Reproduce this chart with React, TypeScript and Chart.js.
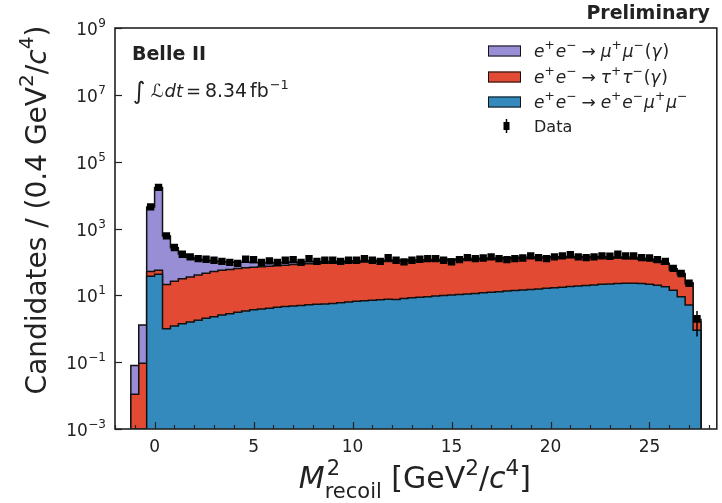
import React, { useEffect, useRef } from "react";
import { Chart, registerables } from "chart.js";

Chart.register(...registerables);

const FONT = "'DejaVu Sans', sans-serif";
const TEXT = "#222222";

// Histogram binning: 0.4 GeV^2/c^4 bins starting at -1.2
const BIN_START = -1.2;
const BIN_WIDTH = 0.4;

const X_MIN = -2;
const X_MAX = 28.4;
const Y_MIN = 1e-3;
const Y_MAX = 1e9;
const X_TICKS = [0, 5, 10, 15, 20, 25];
const Y_TICK_EXPONENTS = [-3, -1, 1, 3, 5, 7, 9];

// e+e- -> e+e-mu+mu- (blue)
const eemumu = [
  0, 0, 37, 43, 1.0, 1.2, 1.4, 1.6, 1.8, 2.05,
  2.3, 2.6, 2.8, 3.1, 3.4, 3.7, 3.9, 4.1, 4.4, 4.6,
  4.8, 5.0, 5.2, 5.4, 5.5, 5.7, 6.0, 6.3, 6.6, 6.9,
  7.1, 7.4, 7.6, 7.5, 8.1, 8.4, 8.8, 9.1, 9.5, 9.9,
  10.3, 10.6, 11.0, 11.4, 11.9, 12.4, 12.9, 13.4, 13.9, 14.5,
  15.0, 15.6, 16.2, 16.9, 17.6, 18.3, 19.0, 19.8, 20.5, 21.3,
  21.9, 22.5, 23.0, 23.0, 22.6, 21.3, 20.0, 18.0, 14.3, 9.0,
  5.1, 0.9,
];

// e+e- -> tau+tau-(gamma) (red)
const tautau = [
  0.011, 0.093, 15, 13, 20, 25, 30, 34, 39, 44,
  49, 54, 57, 60, 63, 65, 68, 70, 73, 75,
  79, 81, 83, 85, 87, 87, 89, 90, 91, 93,
  94, 95, 95, 97, 96, 97, 97, 97, 98, 99,
  101, 102, 104, 106, 107, 109, 109, 111, 112, 114,
  114, 114, 115, 115, 115, 116, 116, 115, 114, 112,
  109, 107, 104, 102, 97, 91, 80, 67, 43, 33,
  17, 0.7,
];

// e+e- -> mu+mu-(gamma) (purple)
const mumu = [
  0.069, 1.2, 4350, 16900, 579, 240, 140, 100, 80, 66,
  55, 46, 40, 35, 31, 27, 24, 21, 19, 17,
  15, 14, 13, 12, 11, 11, 10, 10, 10, 10,
  10, 10, 10, 10, 10, 10, 10, 10, 10, 10,
  10, 10, 10, 10, 10, 10, 10, 10, 10, 10,
  10, 10, 10, 10, 10, 10, 10, 10, 10, 10,
  10, 10, 10, 10, 10, 9, 8, 7, 5, 3,
  1.5, 0.3,
];

// Data counts
const dataCounts: (number | null)[] = [
  null, null, 4450, 17000, 600, 270, 170, 141, 126, 120,
  112, 104, 97, 90, 120, 117, 97, 107, 97, 112,
  117, 97, 126, 104, 112, 112, 104, 112, 112, 126,
  112, 104, 135, 112, 100, 112, 120, 126, 126, 112,
  100, 117, 135, 126, 131, 141, 126, 117, 126, 131,
  151, 135, 126, 141, 151, 166, 141, 135, 141, 151,
  148, 170, 151, 151, 135, 131, 117, 104, 64, 45,
  23, 2,
];

const COLOR_MUMU = "#988ED5";
const COLOR_TAUTAU = "#E24A33";
const COLOR_EEMUMU = "#348ABD";

const binLow = (i: number) => BIN_START + i * BIN_WIDTH;

function cumulative(...layers: number[][]) {
  return layers[0].map((_, i) => layers.reduce((s, l) => s + l[i], 0));
}

function stepPoints(values: number[]) {
  const pts: { x: number; y: number }[] = [];
  pts.push({ x: binLow(0), y: Y_MIN });
  values.forEach((v, i) => {
    const y = Math.max(v, Y_MIN);
    pts.push({ x: binLow(i), y }, { x: binLow(i + 1), y });
  });
  pts.push({ x: binLow(values.length), y: Y_MIN });
  return pts;
}

type Run = { t: string; style?: "n" | "i" | "b"; scale?: number; rise?: number; dx?: number };
const SUP = (t: string, dx = 0): Run => ({ t, scale: 0.72, rise: 0.45, dx });

function runFont(r: Run, size: number) {
  const s = size * (r.scale ?? 1);
  return `${r.style === "i" ? "italic " : ""}${r.style === "b" ? "bold " : ""}${s}px ${FONT}`;
}
function measureRuns(ctx: CanvasRenderingContext2D, runs: Run[], size: number) {
  let w = 0;
  for (const r of runs) {
    ctx.font = runFont(r, size);
    w += ctx.measureText(r.t).width + (r.dx ?? 0);
  }
  return w;
}
function drawRuns(ctx: CanvasRenderingContext2D, runs: Run[], x: number, y: number, size: number) {
  let cx = x;
  ctx.textAlign = "left";
  ctx.textBaseline = "alphabetic";
  for (const r of runs) {
    ctx.font = runFont(r, size);
    ctx.fillText(r.t, cx, y - (r.rise ?? 0) * size);
    cx += ctx.measureText(r.t).width + (r.dx ?? 0);
  }
  return cx;
}

const SD = 1; // extra space after legend superscripts
const ARROW: Run[] = [{ t: "", dx: 4 }, { t: "\u2192", dx: 5 }];
const LEGEND_ROWS: { color: string | null; runs: Run[]; size: number }[] = [
  {
    color: COLOR_MUMU,
    size: 17,
    runs: [
      { t: "e", style: "i" }, SUP("+", SD), { t: "e", style: "i" }, SUP("\u2212", SD),
      ...ARROW, { t: "\u03BC", style: "i" }, SUP("+", SD), { t: "\u03BC", style: "i" }, SUP("\u2212", SD),
      { t: "(" }, { t: "\u03B3", style: "i", dx: 1 }, { t: ")" },
    ],
  },
  {
    color: COLOR_TAUTAU,
    size: 17,
    runs: [
      { t: "e", style: "i" }, SUP("+", SD), { t: "e", style: "i" }, SUP("\u2212", SD),
      ...ARROW, { t: "\u03C4", style: "i" }, SUP("+", SD), { t: "\u03C4", style: "i" }, SUP("\u2212", SD),
      { t: "(" }, { t: "\u03B3", style: "i", dx: 1 }, { t: ")" },
    ],
  },
  {
    color: COLOR_EEMUMU,
    size: 17,
    runs: [
      { t: "e", style: "i" }, SUP("+", SD), { t: "e", style: "i" }, SUP("\u2212", SD),
      ...ARROW, { t: "e", style: "i" }, SUP("+", SD), { t: "e", style: "i" }, SUP("\u2212", SD),
      { t: "\u03BC", style: "i" }, SUP("+", SD), { t: "\u03BC", style: "i" }, SUP("\u2212", 0),
    ],
  },
  { color: null, size: 16, runs: [{ t: "Data" }] },
];

const decorPlugin = {
  id: "decor",
  afterDatasetsDraw(chart: any) {
    const ctx: CanvasRenderingContext2D = chart.ctx;
    const { left, right, top, bottom } = chart.chartArea;
    const xs = chart.scales.x;
    const ys = chart.scales.y;
    ctx.save();

    // data error bars (Poisson)
    ctx.strokeStyle = "#000";
    ctx.lineWidth = 1.5;
    dataCounts.forEach((n, i) => {
      if (n == null) return;
      const e = Math.sqrt(n);
      const xc = xs.getPixelForValue(binLow(i) + BIN_WIDTH / 2);
      ctx.beginPath();
      ctx.moveTo(xc, ys.getPixelForValue(Math.max(n - e, Y_MIN)));
      ctx.lineTo(xc, ys.getPixelForValue(n + e));
      ctx.stroke();
    });

    // tick marks (inward)
    ctx.strokeStyle = TEXT;
    ctx.lineWidth = 1.2;
    for (let v = Math.ceil(X_MIN); v <= X_MAX; v++) {
      const px = Math.round(xs.getPixelForValue(v)) + 0.5;
      const len = v % 5 === 0 ? 7 : 4;
      ctx.beginPath();
      ctx.moveTo(px, bottom);
      ctx.lineTo(px, bottom - len);
      ctx.stroke();
    }
    ys.ticks.forEach((t: any) => {
      const py = Math.round(ys.getPixelForValue(t.value)) + 0.5;
      ctx.beginPath();
      ctx.moveTo(left, py);
      ctx.lineTo(left + 7, py);
      ctx.stroke();
    });

    // frame
    ctx.lineWidth = 1.6;
    ctx.strokeRect(left, top, right - left, bottom - top);

    ctx.fillStyle = TEXT;

    // y tick labels: 10 with raised exponent
    ys.ticks.forEach((t: any) => {
      const py = ys.getPixelForValue(t.value);
      const ex = String(Math.round(Math.log10(t.value))).replace("-", "\u2212");
      ctx.textAlign = "right";
      ctx.textBaseline = "alphabetic";
      ctx.font = `12px ${FONT}`;
      const wEx = ctx.measureText(ex).width;
      ctx.fillText(ex, 106, py - 1);
      ctx.font = `17px ${FONT}`;
      ctx.fillText("10", 106 - wEx - 0.5, py + 7);
    });

    // Preliminary
    ctx.font = `bold 19px ${FONT}`;
    ctx.textAlign = "right";
    ctx.textBaseline = "alphabetic";
    ctx.fillText("Preliminary", 710, 19);

    // Belle II
    ctx.textAlign = "left";
    ctx.font = `bold 19px ${FONT}`;
    ctx.fillText("Belle II", 132, 60);

    // Integrated luminosity
    ctx.font = `24px ${FONT}`;
    ctx.fillText("\u222B", 133, 99);
    drawRuns(
      ctx,
      [
        { t: "\u2112", dx: 0.5 },
        { t: "dt", style: "i", dx: 3 },
        { t: "=", dx: 4 },
        { t: "8.34", scale: 1.05, dx: 3 },
        { t: "fb", scale: 1.05, dx: 1 },
        SUP("\u22121"),
      ],
      151,
      97,
      18
    );

    // Legend
    const rowY = [51, 77, 102, 126];
    LEGEND_ROWS.forEach((row, k) => {
      const cy = rowY[k];
      if (row.color) {
        ctx.fillStyle = row.color;
        ctx.fillRect(488, cy - 5.5, 33, 11);
        ctx.strokeStyle = "#111";
        ctx.lineWidth = 1;
        ctx.strokeRect(488.5, cy - 5, 32, 10);
      } else {
        ctx.fillStyle = "#000";
        ctx.fillRect(503.5, cy - 4, 6, 8);
        ctx.strokeStyle = "#000";
        ctx.lineWidth = 1.5;
        ctx.beginPath();
        ctx.moveTo(506.5, cy - 7);
        ctx.lineTo(506.5, cy + 7);
        ctx.stroke();
      }
      ctx.fillStyle = TEXT;
      drawRuns(ctx, row.runs, 534, cy + 5.5, row.size);
    });

    // X axis title
    const xs1: Run[] = [{ t: "M", style: "i" }];
    const xsRest: Run[] = [{ t: " [GeV" }, SUP("2"), { t: "/" }, { t: "c", style: "i" }, SUP("4"), { t: "]" }];
    const tsize = 30;
    const supRun: Run = { t: "2", scale: 0.7, rise: 0.45 };
    const subRun: Run = { t: "recoil", scale: 0.7, rise: -0.33 };
    const wM = measureRuns(ctx, xs1, tsize);
    const wStack = Math.max(measureRuns(ctx, [supRun], tsize), measureRuns(ctx, [subRun], tsize));
    const wRest = measureRuns(ctx, xsRest, tsize);
    const total = wM + wStack + wRest;
    let cx = (left + right) / 2 - total / 2 - 1;
    const by = 488;
    ctx.fillStyle = TEXT;
    cx = drawRuns(ctx, xs1, cx, by, tsize);
    drawRuns(ctx, [supRun], cx + 2, by, tsize);
    drawRuns(ctx, [subRun], cx, by, tsize);
    cx += wStack;
    drawRuns(ctx, xsRest, cx, by, tsize);

    // Y axis title
    const yRuns: Run[] = [
      { t: "Candidates / (0.4 GeV" }, SUP("2"), { t: "/" }, { t: "c", style: "i" }, SUP("4"), { t: ")" },
    ];
    const wy = measureRuns(ctx, yRuns, 28);
    ctx.translate(46, 210);
    ctx.rotate(-Math.PI / 2);
    drawRuns(ctx, yRuns, -wy / 2, 0, 28);

    ctx.restore();
  },
};

export default function App() {
  const canvasRef = useRef<HTMLCanvasElement>(null);

  useEffect(() => {
    const canvas = canvasRef.current;
    if (!canvas) return;

    const blueCum = cumulative(eemumu);
    const redCum = cumulative(eemumu, tautau);
    const totalCum = cumulative(eemumu, tautau, mumu);

    const dataPoints = dataCounts
      .map((n, i) => (n == null ? null : { x: binLow(i) + BIN_WIDTH / 2, y: n }))
      .filter((p) => p !== null) as { x: number; y: number }[];

    const stepDs = (label: string, values: number[], color: string) => ({
      label,
      data: stepPoints(values),
      borderColor: "#111",
      borderWidth: 1.5,
      backgroundColor: color,
      fill: "start",
      pointRadius: 0,
      tension: 0,
    });

    const chart = new Chart(canvas, {
      type: "line",
      data: {
        datasets: [
          {
            label: "Data",
            data: dataPoints,
            showLine: false,
            pointStyle: "rect",
            pointRadius: 5.2,
            pointBackgroundColor: "#000",
            pointBorderColor: "#000",
            pointBorderWidth: 0,
            borderColor: "#000",
            backgroundColor: "#000",
          } as any,
          stepDs("e+e- -> e+e-mu+mu-", blueCum, COLOR_EEMUMU),
          stepDs("e+e- -> tau+tau-(gamma)", redCum, COLOR_TAUTAU),
          stepDs("e+e- -> mu+mu-(gamma)", totalCum, COLOR_MUMU),
        ],
      },
      options: {
        animation: false,
        responsive: false,
        maintainAspectRatio: false,
        layout: { padding: { left: 0, right: 4, top: 28, bottom: 0 } },
        plugins: {
          legend: { display: false },
          tooltip: { enabled: false },
        },
        scales: {
          x: {
            type: "linear",
            min: X_MIN,
            max: X_MAX,
            grid: { display: false, drawTicks: false },
            border: { display: false },
            ticks: { font: { family: FONT, size: 17 }, color: TEXT, padding: 8 },
            afterBuildTicks: (s: any) => {
              s.ticks = X_TICKS.map((v) => ({ value: v }));
            },
            afterFit: (s: any) => {
              s.height = 74;
            },
          },
          y: {
            type: "logarithmic",
            min: Y_MIN,
            max: Y_MAX,
            grid: { display: false, drawTicks: false },
            border: { display: false },
            ticks: { display: false },
            afterBuildTicks: (s: any) => {
              s.ticks = Y_TICK_EXPONENTS.map((e) => ({ value: Math.pow(10, e) }));
            },
            afterFit: (s: any) => {
              s.width = 115;
            },
          },
        },
      } as any,
      plugins: [decorPlugin],
    });

    return () => chart.destroy();
  }, []);

  return (
    <div style={{ position: "fixed", left: 0, top: 0, width: 722, height: 503, background: "#fff" }}>
      <canvas ref={canvasRef} width={722} height={503} style={{ display: "block", width: 722, height: 503 }} />
    </div>
  );
}
